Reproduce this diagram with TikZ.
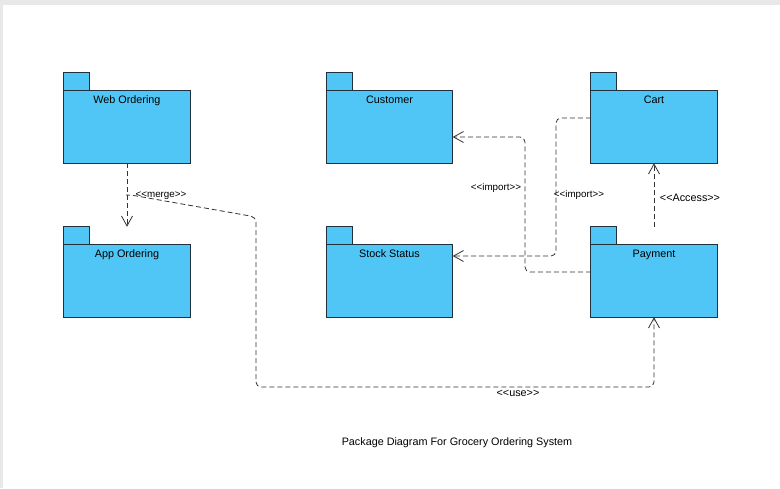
\documentclass[tikz,border=0pt]{standalone}
\usepackage{fontspec}
\setmainfont{Liberation Sans}
\usetikzlibrary{arrows.meta,calc}
\definecolor{pkgblue}{RGB}{79,198,245}
\definecolor{pkgedge}{RGB}{32,48,60}
\definecolor{depgray}{RGB}{50,50,50}
\definecolor{framegray}{RGB}{232,232,232}
\NewDocumentCommand\stereo{m}{<\kern0pt<#1>\kern0pt>}
\tikzset{
  pkg/.style={minimum width=126pt, minimum height=90pt, inner sep=0pt},
  pkgshape/.style={fill=pkgblue, draw=pkgedge, line width=0.8pt},
  pkgname/.style={font=\fontsize{10.8}{12}\selectfont, anchor=base, inner sep=0pt},
  dep/.style={draw=depgray, line width=0.8pt, dash pattern=on 5pt off 3pt,
    -{Straight Barb[length=10pt,width=11pt]}},
  deplabel/.style={font=\fontsize{9.8}{11}\selectfont, inner sep=1pt},
}

\begin{document}
\begin{tikzpicture}[x=1pt,y=-1pt]
      \useasboundingbox (0,0) rectangle (780,488);
      \fill[framegray] (0,0) rectangle (780,4.5);
      \fill[framegray] (0,0) rectangle (3,488);
      \foreach \n/\x/\y/\lbl in {web/127/118/Web Ordering, app/127/272/App Ordering,
          cust/389.5/118/Customer, stock/389.5/272/Stock Status,
          cart/654/118/Cart, pay/654/272/Payment}{
        \node[pkg] (\n) at (\x,\y) {};
        \draw[pkgshape] ([yshift=-18pt]\n.north west) rectangle (\n.south east);
        \draw[pkgshape] (\n.north west) rectangle ++(26,18);
        \node[pkgname] (\n-name) at ([yshift=-31pt]\n.north) {\lbl};
      }
      \coordinate (mg) at ($(web.south)!0.5!(app.north)$);
      \draw[dep] (web.south) -- (app.north);
      \draw[dep, rounded corners=5pt] (mg) -- ++(4,0) -- (256,217) -- (256,387) -| (pay.south);
      \draw[dep, rounded corners=5pt] (pay.west) -| (525,137) -- (cust.east |- 0,137);
      \draw[dep, rounded corners=5pt] (cart.west) -| (556,256) -- (stock.east |- 0,256);
      \draw[dep] (pay.north) -- (cart.south);
      \node[deplabel] (merge-lbl) at (161,195.5) {\stereo{merge}};
      \node[deplabel] (imp-cust) at (496,188) {\stereo{import}};
      \node[deplabel] (imp-stock) at (579,195) {\stereo{import}};
      \node[deplabel, font=\fontsize{10.8}{12}\selectfont] (access-lbl) at (690,198) {\stereo{Access}};
      \node[deplabel, font=\fontsize{10.8}{12}\selectfont] (use-lbl) at (518,393) {\stereo{use}};
      \node[font=\fontsize{10.8}{12}\selectfont] (title) at (457,443) {Package Diagram For Grocery Ordering System};
    \end{tikzpicture}
\end{document}
